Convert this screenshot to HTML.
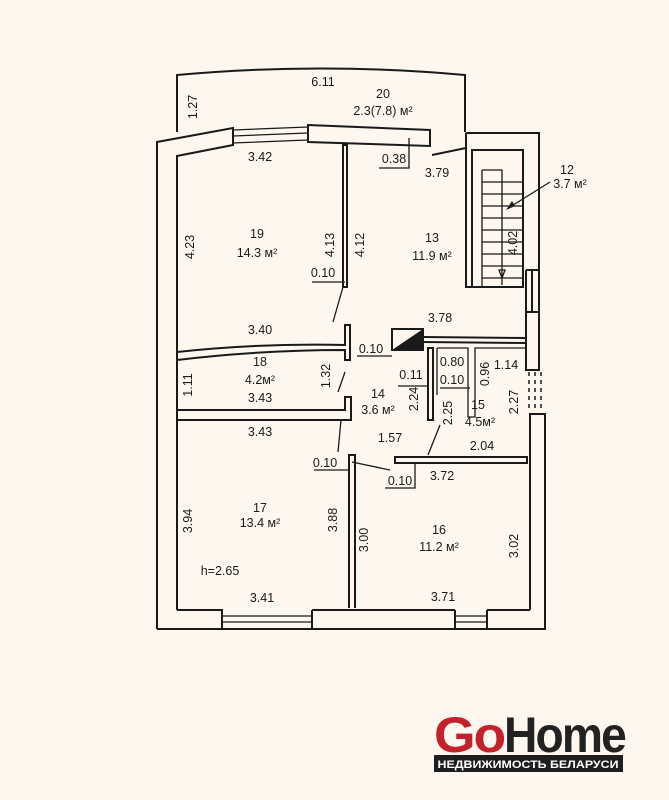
<!DOCTYPE html>
<html><head><meta charset="utf-8"><style>
html,body{margin:0;padding:0;background:#fdf7f0;}
svg{display:block}
text{font-family:"Liberation Sans",sans-serif;font-size:12.5px;fill:#1a1a1a;text-anchor:middle}
.l{fill:none;stroke:#1a1a1a;stroke-width:2}
.t{fill:none;stroke:#1a1a1a;stroke-width:1.3}
</style></head><body>
<svg width="669" height="800" viewBox="0 0 669 800" xmlns="http://www.w3.org/2000/svg">
<rect width="669" height="800" fill="#fdf7f0"/>
<!-- balcony -->
<path class="l" d="M177,132 L177,75 Q320,62 465,75 L465,132"/>
<!-- top walls -->
<path class="l" d="M157,629 L157,142 L233,128 L233,145 L177,156 L177,610"/>
<path class="t" d="M233,130 L308,127 M233,143 L308,140 M233,136 L308,133"/>
<path class="l" d="M308,125 L430,130 L430,146 L308,142 Z"/>
<!-- stair box -->
<path class="l" d="M466,133 L539,133 L539,270 M466,133 L466,287 L523,287 L523,150 L472,150 L472,287"/>
<path class="l" d="M432,155 L466,148"/>
<path class="t" d="M482,170 L482,287 M482,170 L502,170 L502,285"/>
<path class="t" d="M482,182 L523,182 M482,194 L523,194 M482,206 L523,206 M482,218 L523,218 M482,230 L523,230 M482,242 L523,242 M482,254 L523,254 M482,266 L523,266 M482,278 L523,278"/>
<path class="t" d="M502,278 L499,270 L505,270 Z" fill="#1a1a1a"/>
<path class="t" d="M550,182 L510,207"/>
<path d="M506,210 L512,201 L515,206 Z" fill="#1a1a1a"/>
<!-- right wall -->
<path class="l" d="M526,270 L539,270 M526,270 L526,312 M539,270 L539,312 M532,270 L532,312"/>
<rect class="l" x="526" y="312" width="13" height="58"/>
<path stroke="#1a1a1a" stroke-width="1.5" stroke-dasharray="4,4" d="M529,372 L529,412 M535,372 L535,412 M541,372 L541,412"/>
<path class="l" d="M530,610 L530,414 L545,414 L545,629 L157,629"/>
<!-- bottom windows -->
<path class="l" d="M177,610 L222,610 L222,629 M312,610 L312,629 M455,610 L455,629 M487,610 L487,629 M487,610 L530,610 M312,610 L455,610"/>
<path class="t" d="M222,616 L312,616 M222,622 L312,622 M455,616 L487,616 M455,622 L487,622"/>
<!-- interior walls -->
<rect class="l" x="343" y="145" width="4" height="142"/>
<path class="t" d="M343,287 L333,322"/>
<path class="l" d="M177,352 Q260,343 345,345 L345,325 L350,325 L350,360 L345,360 L345,350 Q260,350 177,360"/>
<path class="t" d="M345,372 L338,392"/>
<path class="l" d="M177,410 L345,410 L345,397 L351,397 L351,420 L177,420"/>
<path class="t" d="M341,420 L338,452"/>
<path class="l" d="M349,608 L349,455 L355,455 L355,608"/>
<path class="t" d="M352,462 L390,470"/>
<path class="l" d="M395,457 L527,457 L527,463 L395,463 Z"/>
<path class="t" d="M428,455 L440,425"/>
<!-- 15 area -->
<path class="l" d="M423,337 L527,338 M423,342 L527,343"/>
<rect x="392" y="329" width="31" height="21" fill="#fdf7f0" stroke="#1a1a1a" stroke-width="2"/>
<path d="M392,350 L423,329 L423,350 Z" fill="#1a1a1a"/>
<path class="l" d="M428,348 L428,420 L433,420 L433,348 Z"/>
<path class="t" d="M437,348 L437,395 M437,348 L468,348 L468,417 L475,417 L475,348 L527,348"/>
<!-- dimension underlines -->
<path class="t" d="M379,168 L409,168 L409,138 M312,282 L345,282 M357,356 L392,356 M398,386 L428,386 M440,388 L470,388 M314,470 L350,470 M385,488 L415,488 L415,463"/>
<!-- texts -->
<text x="323" y="86">6.11</text>
<text x="383" y="98">20</text>
<text x="383" y="115">2.3(7.8) м²</text>
<text transform="translate(197,107) rotate(-90)">1.27</text>
<text x="260" y="161">3.42</text>
<text x="394" y="163">0.38</text>
<text x="437" y="177">3.79</text>
<text x="567" y="174">12</text>
<text x="570" y="188">3.7 м²</text>
<text transform="translate(194,247) rotate(-90)">4.23</text>
<text x="257" y="238">19</text>
<text x="257" y="257">14.3 м²</text>
<text transform="translate(334,245) rotate(-90)">4.13</text>
<text transform="translate(364,245) rotate(-90)">4.12</text>
<text x="432" y="242">13</text>
<text x="432" y="260">11.9 м²</text>
<text transform="translate(517,243) rotate(-90)">4.02</text>
<text x="323" y="277">0.10</text>
<text x="440" y="322">3.78</text>
<text x="260" y="334">3.40</text>
<text x="371" y="353">0.10</text>
<text x="260" y="366">18</text>
<text x="260" y="384">4.2м²</text>
<text transform="translate(192,385) rotate(-90)">1.11</text>
<text transform="translate(330,376) rotate(-90)">1.32</text>
<text x="260" y="402">3.43</text>
<text x="378" y="398">14</text>
<text x="378" y="414">3.6 м²</text>
<text transform="translate(418,399) rotate(-90)">2.24</text>
<text x="411" y="379">0.11</text>
<text x="452" y="366">0.80</text>
<text x="452" y="384">0.10</text>
<text transform="translate(489,374) rotate(-90)">0.96</text>
<text x="506" y="369">1.14</text>
<text transform="translate(452,413) rotate(-90)">2.25</text>
<text x="478" y="409">15</text>
<text x="480" y="426">4.5м²</text>
<text transform="translate(518,402) rotate(-90)">2.27</text>
<text x="390" y="442">1.57</text>
<text x="482" y="450">2.04</text>
<text x="260" y="436">3.43</text>
<text x="325" y="467">0.10</text>
<text x="400" y="485">0.10</text>
<text x="442" y="480">3.72</text>
<text transform="translate(192,521) rotate(-90)">3.94</text>
<text x="260" y="512">17</text>
<text x="260" y="527">13.4 м²</text>
<text transform="translate(337,520) rotate(-90)">3.88</text>
<text transform="translate(368,540) rotate(-90)">3.00</text>
<text x="439" y="534">16</text>
<text x="439" y="551">11.2 м²</text>
<text transform="translate(518,546) rotate(-90)">3.02</text>
<text x="220" y="575">h=2.65</text>
<text x="262" y="602">3.41</text>
<text x="443" y="601">3.71</text>
<!-- logo -->
<text x="434" y="752" style="text-anchor:start;font-size:50px;font-weight:bold;letter-spacing:-2px;fill:#c4222a" textLength="70" lengthAdjust="spacingAndGlyphs">Go</text>
<text x="504" y="752" style="text-anchor:start;font-size:50px;font-weight:bold;letter-spacing:-2px;fill:#222" textLength="121" lengthAdjust="spacingAndGlyphs">Home</text>
<rect x="434" y="755" width="189" height="17" fill="#1e1e1e"/>
<text x="528" y="768" style="font-size:11px;font-weight:bold;fill:#fff" textLength="181" lengthAdjust="spacingAndGlyphs">НЕДВИЖИМОСТЬ БЕЛАРУСИ</text>
</svg>
</body></html>
